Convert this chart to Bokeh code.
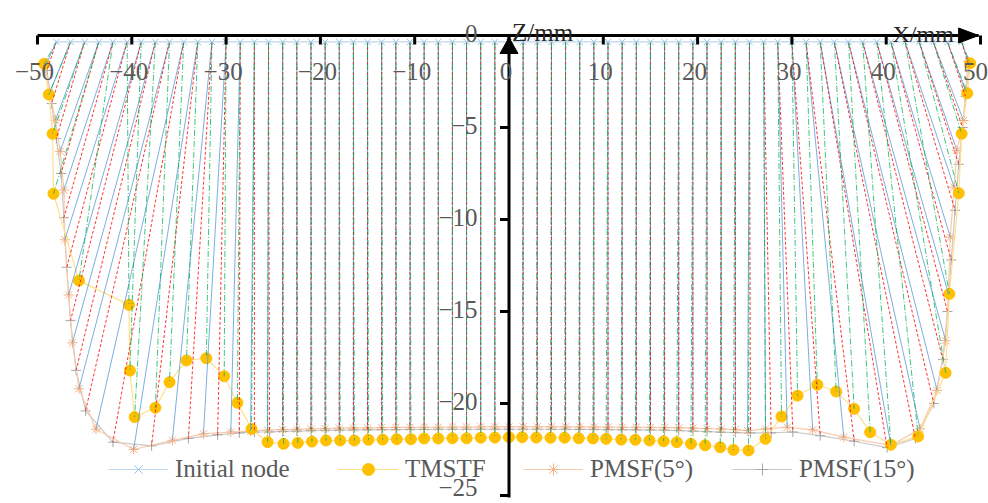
from bokeh.plotting import figure
from bokeh.models import Range1d, Legend, LegendItem
from bokeh.embed import file_html
from bokeh.resources import INLINE
from bokeh.core.properties import value

# ---------------- data (mm) ----------------
init_x = [-48.0, -46.5, -45.0, -43.5, -42.0, -40.5, -39.0, -37.5, -36.0, -34.5, -33.0, -31.5, -30.0,
          -28.5, -27.0, -25.5, -24.0, -22.5, -21.0, -19.5, -18.0, -16.5, -15.0, -13.5, -12.0, -10.5,
          -9.0, -7.5, -6.0, -4.5, -3.0, -1.5, 0.0, 1.5, 3.0, 4.5, 6.0, 7.5, 9.0, 10.5, 12.0, 13.5,
          15.0, 16.5, 18.0, 19.5, 21.0, 22.5, 24.0, 25.5, 27.0, 28.5, 30.0, 31.5, 33.0, 34.5, 36.0,
          37.5, 39.0, 40.5, 42.0, 43.5, 45.0, 46.5, 48.0]
init_z = [-0.35] * len(init_x)

tm_x = [-49.3, -48.8, -48.4, -48.3, -45.6, -40.3, -40.2, -39.7, -37.5, -36.0, -34.2, -32.1, -30.2,
        -28.8, -27.3, -25.6, -23.9, -22.4, -20.9, -19.4, -17.9, -16.4, -14.9, -13.4, -11.9, -10.4,
        -9.0, -7.5, -6.0, -4.5, -3.0, -1.5, 0.0, 1.4, 2.9, 4.4, 5.9, 7.4, 8.9, 10.3, 11.9, 13.4,
        14.9, 16.4, 17.8, 19.3, 20.8, 22.4, 23.8, 25.4, 27.2, 28.9, 30.6, 32.7, 34.7, 36.6, 38.3,
        40.5, 43.4, 46.3, 46.7, 47.7, 48.0, 48.6, 48.9]
tm_z = [-1.54, -3.21, -5.34, -8.60, -13.32, -14.64, -18.21, -20.74, -20.23, -18.84, -17.66, -17.54,
        -18.52, -19.96, -21.38, -22.10, -22.19, -22.14, -22.07, -22.01, -22.01, -22.01, -21.97,
        -21.96, -21.94, -21.94, -21.90, -21.90, -21.89, -21.89, -21.86, -21.85, -21.83, -21.83,
        -21.85, -21.86, -21.86, -21.89, -21.90, -21.92, -21.96, -21.97, -22.01, -22.05, -22.10,
        -22.19, -22.27, -22.38, -22.52, -22.55, -21.92, -20.71, -19.57, -18.98, -19.35, -20.29,
        -21.56, -22.24, -21.79, -18.33, -14.04, -8.57, -5.34, -3.14, -1.51]

pm5_x = [-49.2, -48.7, -48.1, -47.6, -47.2, -47.1, -46.7, -46.3, -45.6, -43.8, -39.8, -35.7, -32.4,
         -29.5, -27.4, -25.6, -24.0, -22.5, -21.0, -19.5, -18.0, -16.5, -15.0, -13.5, -12.0, -10.5,
         -9.0, -7.5, -6.0, -4.5, -3.0, -1.5, 0.0, 1.5, 3.0, 4.5, 6.0, 7.5, 9.0, 10.5, 12.0, 13.5,
         15.0, 16.5, 18.0, 19.5, 21.0, 22.5, 24.0, 25.3, 27.2, 29.5, 32.2, 35.5, 40.5, 43.6, 45.4,
         46.3, 46.6, 46.8, 47.2, 47.5, 48.2, 48.4, 48.7]
pm5_z = [-1.7, -3.1, -4.6, -6.3, -8.4, -11.1, -14.1, -16.7, -19.2, -21.4, -22.5, -22.0, -21.65,
         -21.55, -21.5, -21.45, -21.42, -21.40, -21.38, -21.36, -21.34, -21.33, -21.32, -21.31,
         -21.30, -21.30, -21.29, -21.29, -21.28, -21.28, -21.27, -21.27, -21.27, -21.27, -21.27,
         -21.27, -21.27, -21.27, -21.28, -21.28, -21.29, -21.29, -21.30, -21.31, -21.32, -21.34,
         -21.36, -21.39, -21.42, -21.47, -21.38, -21.29, -21.43, -21.83, -22.28, -21.38, -19.29,
         -16.58, -14.04, -10.96, -8.24, -6.25, -4.62, -3.0, -1.4]

pm15_x = [-49.0, -48.5, -48.0, -47.5, -47.2, -46.9, -46.5, -45.9, -44.9, -42.0, -37.9, -34.0, -30.9,
          -28.6, -27.0, -25.4, -24.0, -22.5, -21.0, -19.5, -18.0, -16.5, -15.0, -13.5, -12.0, -10.5,
          -9.0, -7.5, -6.0, -4.5, -3.0, -1.5, 0.0, 1.5, 3.0, 4.5, 6.0, 7.5, 9.0, 10.5, 12.0, 13.5,
          15.0, 16.5, 18.0, 19.5, 21.0, 22.5, 24.0, 25.6, 27.8, 30.1, 33.0, 36.6, 40.1, 43.1, 45.05,
          46.0, 46.5, 46.9, 47.3, 47.7, 48.1, 48.4, 48.8]
pm15_z = [-1.9, -3.7, -5.6, -7.5, -9.9, -12.6, -15.5, -18.2, -20.4, -22.1, -22.3, -21.9, -21.7,
          -21.6, -21.55, -21.55, -21.52, -21.50, -21.48, -21.46, -21.45, -21.44, -21.43, -21.42,
          -21.42, -21.41, -21.41, -21.40, -21.40, -21.40, -21.40, -21.40, -21.40, -21.40, -21.40,
          -21.40, -21.40, -21.41, -21.41, -21.42, -21.42, -21.43, -21.44, -21.45, -21.47, -21.50,
          -21.53, -21.56, -21.58, -21.60, -21.6, -21.55, -21.75, -22.05, -22.4, -21.9, -20.0,
          -17.6, -15.0, -12.2, -9.5, -7.0, -5.0, -3.3, -1.7]

x_ticks = [-50, -40, -30, -20, -10, 0, 10, 20, 30, 40, 50]
x_tick_labels = ["\u221250", "\u221240", "\u221230", "\u221220", "\u221210", "0", "10", "20", "30", "40", "50"]
z_ticks = [0, -5, -10, -15, -20, -25]
z_tick_labels = ["0", "\u22125", "\u221210", "\u221215", "\u221220", "\u221225"]

# ---------------- layout ----------------
W, H = 988, 503
PXX, PXZ = 9.43, 18.4           # pixels per mm
X0, Z0 = 508.5, 35.0            # canvas pixel of the origin
x_lo = -X0 / PXX
x_hi = (W - X0) / PXX
z_hi = Z0 / PXZ
z_lo = -(H - Z0) / PXZ

p = figure(width=W, height=H, x_range=Range1d(x_lo, x_hi), y_range=Range1d(z_lo, z_hi),
           output_backend="svg", toolbar_location=None, x_axis_type=None, y_axis_type=None,
           min_border=0)
p.grid.visible = False
p.outline_line_color = None
p.background_fill_color = "white"

FONT = "Liberation Serif"

# boundary curves
r15l = p.line(pm15_x, pm15_z, line_color="#c9c9c9", line_width=1.2)
r15m = p.scatter(pm15_x, pm15_z, marker="cross", size=10, line_color="#a6a6a6", line_width=1)
r5l = p.line(pm5_x, pm5_z, line_color="#f8cbad", line_width=1.2)
r5m = p.scatter(pm5_x, pm5_z, marker="asterisk", size=10, line_color="#f4b183", line_width=1)
rtl = p.line(tm_x, tm_z, line_color="#ffe08a", line_width=1.2)
rtm = p.scatter(tm_x, tm_z, marker="circle", size=11, fill_color="#ffc000", line_color="#ffc000")

# node connection lines
p.segment(x0=init_x, y0=init_z, x1=pm5_x, y1=pm5_z, line_color="#5b9bd5", line_width=1, line_alpha=0.8)
p.segment(x0=init_x, y0=init_z, x1=pm15_x, y1=pm15_z, line_color="#ff0000", line_width=1,
          line_alpha=0.8, line_dash="3 2")
p.segment(x0=init_x, y0=init_z, x1=tm_x, y1=tm_z, line_color="#00b050", line_width=1,
          line_alpha=0.75, line_dash="6 2 1 2")

# initial nodes
ril = p.line(init_x, init_z, line_color="#bdd7ee", line_width=1.2)
rim = p.scatter(init_x, init_z, marker="x", size=9, line_color="#9dc3e6", line_width=1)

# ---------------- hand-drawn axes ----------------
AX_C = "black"
tip = x_ticks[-1] - 0.2
p.line([x_ticks[0], tip], [0, 0], line_color=AX_C, line_width=3)
p.segment(x0=x_ticks, y0=[0] * len(x_ticks), x1=x_ticks, y1=[-9 / PXZ] * len(x_ticks),
          line_color=AX_C, line_width=3)
p.patch([tip - 20 / PXX, tip, tip - 20 / PXX], [7.5 / PXZ, 0, -7.5 / PXZ], color=AX_C)

ztip = -2 / PXZ
p.line([0, 0], [ztip, z_ticks[-1] - 2 / PXZ], line_color=AX_C, line_width=3)
p.segment(x0=[-9 / PXX] * (len(z_ticks) - 1), y0=z_ticks[1:], x1=[0] * (len(z_ticks) - 1), y1=z_ticks[1:],
          line_color=AX_C, line_width=3)
p.patch([-9 / PXX, 9 / PXX, 0], [ztip - 16 / PXZ, ztip - 16 / PXZ, ztip], color=AX_C)

lab_x = [min(t - 3 / PXX, x_hi - 13 / PXX) for t in x_ticks]
p.text(x=lab_x, y=[-36 / PXZ] * len(x_ticks), text=x_tick_labels,
       text_font=value(FONT), text_font_size="25px", text_color="#595959",
       text_align="center", text_baseline="middle")
lab_z = [max(t + 2.5 / PXZ, z_lo + 16 / PXZ) for t in z_ticks]
p.text(x=[-31.5 / PXX] * len(z_ticks), y=lab_z, text=z_tick_labels,
       text_font=value(FONT), text_font_size="25px", text_color="#595959",
       text_align="right", text_baseline="middle")
p.text(x=[3 / PXX], y=[3 / PXZ], text=["Z/mm"], text_font=value(FONT), text_font_size="25px",
       text_color="#262626", text_align="left", text_baseline="alphabetic")
p.text(x=[(892 - X0) / PXX], y=[1.5 / PXZ], text=["X/mm"], text_font=value(FONT),
       text_font_size="24px", text_color="#262626", text_align="left", text_baseline="alphabetic")

# ---------------- legend (four single-item legends) ----------------
entries = [("Initial node", [ril, rim], 108), ("TMSTF", [rtl, rtm], 338),
           ("PMSF(5\u00b0)", [r5l, r5m], 523), ("PMSF(15\u00b0)", [r15l, r15m], 732)]
center_from_bottom = H - 469
for label, rends, left in entries:
    lg = Legend(items=[LegendItem(label=label, renderers=rends)],
                location=(left, center_from_bottom - 15),
                glyph_width=60, glyph_height=30, label_height=30, label_standoff=7,
                padding=0, margin=0, spacing=0,
                label_text_font=FONT, label_text_font_size="25px", label_text_color="#595959",
                background_fill_alpha=0, border_line_alpha=0)
    p.add_layout(lg, "center")

open("out.html", "w").write(file_html(p, INLINE))
